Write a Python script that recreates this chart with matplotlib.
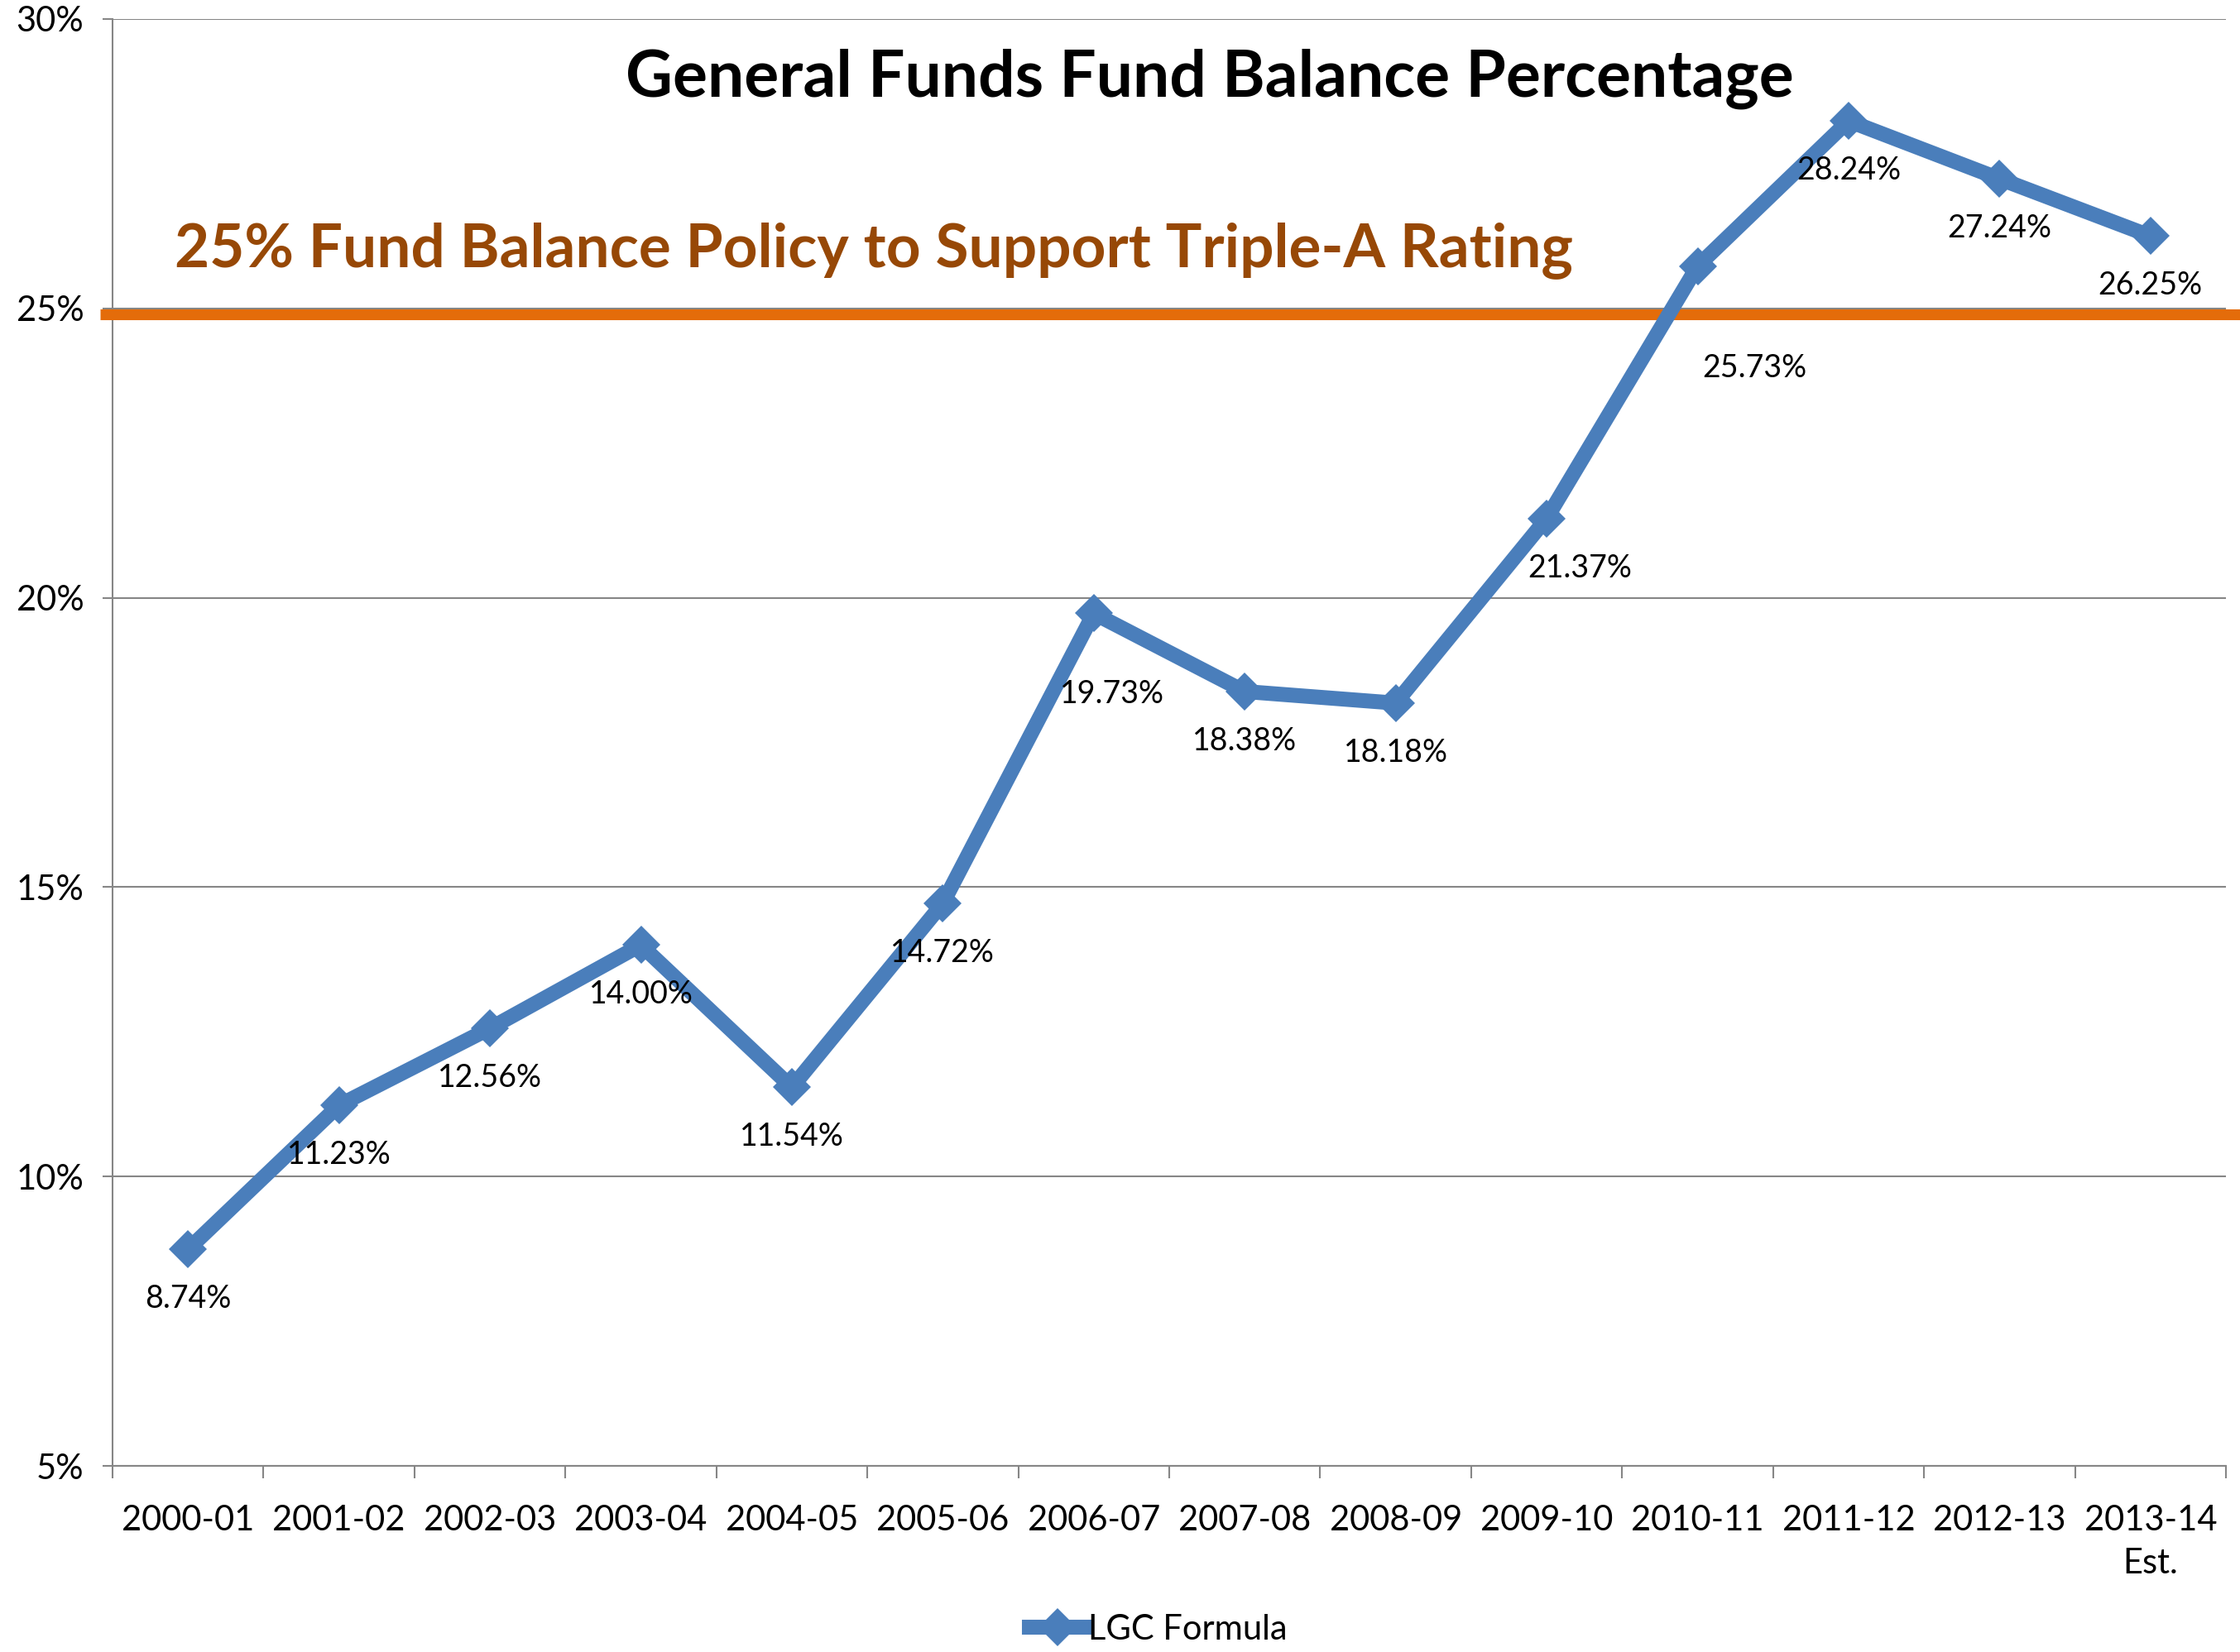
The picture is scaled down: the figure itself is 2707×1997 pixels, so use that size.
import numpy as np
import matplotlib
matplotlib.use('Agg')
import matplotlib.pyplot as plt
from matplotlib.ticker import FuncFormatter

years = ['2000-01', '2001-02', '2002-03', '2003-04', '2004-05', '2005-06', '2006-07',
         '2007-08', '2008-09', '2009-10', '2010-11', '2011-12', '2012-13', '2013-14\nEst.']
balance_pct = [8.74, 11.23, 12.56, 14.00, 11.54, 14.72, 19.73, 18.38, 18.18, 21.37,
               25.73, 28.24, 27.24, 26.25]
policy_pct = 25
series_name = 'LGC Formula'
title = 'General Funds Fund Balance Percentage'
policy_text = '25% Fund Balance Policy to Support Triple-A Rating'

# label offsets in pixels (most sit right below the point)
label_dx = [0, 0, 0, 0, 0, 0, 22, 0, 0, 40, 69, 0, 0, 0]
label_dy = [-60, -60, -60, -60, -60, -60, -98, -60, -60, -60, -123, -60, -60, -60]

plt.rcParams['font.family'] = ['Lato', 'DejaVu Sans']
blue = '#4A7EBB'
grid_c = '#868686'

fig = plt.figure(figsize=(27.07, 19.97), dpi=100)
ax = fig.add_axes([136/2707, 1-1772/1997, (2690-136)/2707, (1772-23)/1997])

x = np.arange(len(years))
ax.plot(x, balance_pct, color=blue, lw=13, marker='D', ms=23, mew=0,
        label=series_name, zorder=4)

ax.set_xlim(-0.5, len(years)-0.5)
ax.set_ylim(5, 30)
ax.set_yticks(np.arange(5, 31, 5))
ax.yaxis.set_major_formatter(FuncFormatter(lambda v, p: '%d%%' % v))
ax.grid(axis='y', color=grid_c, lw=1.5)
ax.set_axisbelow(True)
for s in ['top', 'right']:
    ax.spines[s].set_visible(False)
for s in ['left', 'bottom']:
    ax.spines[s].set_color(grid_c)
    ax.spines[s].set_linewidth(1.5)

ax.set_xticks(np.arange(-0.5, len(years), 1))
ax.set_xticklabels([])
ax.set_xticks(x, minor=True)
ax.set_xticklabels(years, minor=True, linespacing=1.45)
ax.tick_params(axis='x', which='major', length=11, width=1.5, color=grid_c)
ax.tick_params(axis='x', which='minor', length=0, pad=34, labelsize=30)
ax.tick_params(axis='y', length=9, width=1.5, color=grid_c, pad=16, labelsize=30)

for i, v in enumerate(balance_pct):
    ax.annotate('%.2f%%' % v, (x[i], v), xytext=(label_dx[i], label_dy[i]),
                textcoords='offset pixels', ha='center', va='center', fontsize=27, zorder=5)

# policy line: drawn just under the 25% gridline and past the plot area, as in the original
ax.plot([-0.006, 1.0067], [policy_pct - 0.1, policy_pct - 0.1], color='#E46C0A', lw=9.4,
        solid_capstyle='butt', transform=ax.get_yaxis_transform(), clip_on=False, zorder=3)

fig.text(1462/2707, 1-95/1997, title, ha='center', va='center', fontsize=56.5, fontweight='bold')
fig.text(211/2707, 1-303/1997, policy_text, ha='left', va='center', fontsize=52.5,
         fontweight='bold', color='#974806')

fig.legend(loc='center', bbox_to_anchor=(1400/2707, 1-1970/1997), frameon=False,
           fontsize=30, handlelength=1.6, handletextpad=0.1)

fig.savefig('out.png', dpi=100)
